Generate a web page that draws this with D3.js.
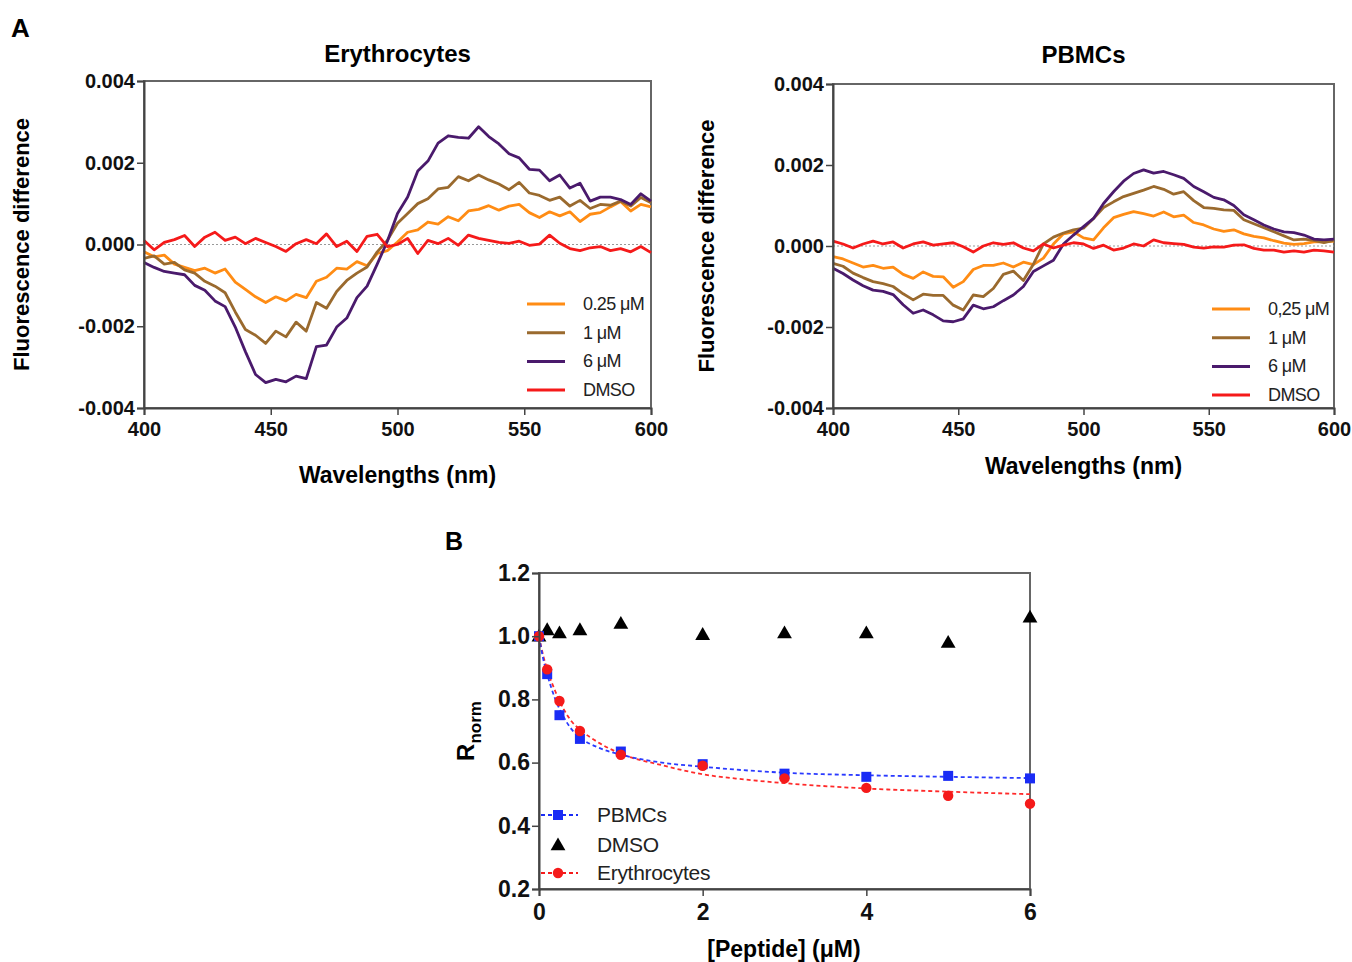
<!DOCTYPE html>
<html>
<head>
<meta charset="utf-8">
<script src="https://cdn.jsdelivr.net/npm/d3@7"></script>
<style>
  body { margin: 0; background: #fff; }
  svg { font-family: "Liberation Sans", Arial, sans-serif; }
</style>
</head>
<body>
<svg id="fig" width="1352" height="962"></svg>
<script>
// wavelengths (nm), 4 nm step
var wavelengths = [400,404,408,412,416,420,424,428,432,436,440,444,448,452,456,460,464,468,472,476,480,484,488,492,496,500,
  504,508,512,516,520,524,528,532,536,540,544,548,552,556,560,564,568,572,576,580,584,588,592,596,600];

// Erythrocytes, fluorescence difference (x 0.001)
var eryLow = [-0.18,-0.30,-0.26,-0.48,-0.56,-0.64,-0.58,-0.70,-0.60,-0.92,-1.10,-1.28,-1.42,-1.28,-1.38,-1.22,-1.30,-0.90,-0.80,-0.58,-0.60,-0.42,-0.52,-0.22,-0.15,0.06,
  0.30,0.36,0.55,0.50,0.68,0.58,0.82,0.86,0.95,0.84,0.94,0.98,0.78,0.66,0.80,0.70,0.80,0.56,0.74,0.78,0.92,1.05,0.82,0.98,0.92];
var eryMid = [-0.34,-0.28,-0.48,-0.44,-0.62,-0.70,-0.90,-1.02,-1.18,-1.65,-2.08,-2.22,-2.42,-2.12,-2.26,-1.90,-2.12,-1.42,-1.56,-1.15,-0.88,-0.70,-0.55,-0.18,0.10,0.52,
  0.76,1.00,1.12,1.36,1.40,1.66,1.56,1.70,1.58,1.48,1.34,1.52,1.26,1.20,1.08,1.16,0.94,1.08,0.88,0.98,0.96,1.06,0.94,1.15,1.02];
var eryHigh = [-0.44,-0.56,-0.66,-0.70,-0.74,-1.00,-1.12,-1.38,-1.52,-2.02,-2.62,-3.18,-3.38,-3.30,-3.36,-3.22,-3.28,-2.50,-2.46,-2.02,-1.80,-1.30,-1.02,-0.48,0.08,0.76,
  1.16,1.80,2.04,2.48,2.66,2.62,2.60,2.88,2.64,2.46,2.22,2.12,1.84,1.82,1.56,1.70,1.38,1.50,1.06,1.16,1.16,1.10,0.98,1.24,1.06];
var eryDmso = [0.10,-0.13,0.05,0.12,0.22,-0.05,0.18,0.30,0.10,0.18,0.02,0.15,0.05,-0.05,-0.17,0.02,0.12,0.02,0.26,-0.05,0.08,-0.17,0.20,0.25,-0.05,0.00,
  0.15,-0.22,0.10,0.02,0.15,-0.02,0.23,0.15,0.10,0.05,0.03,0.08,-0.02,0.01,0.23,0.03,-0.10,-0.15,-0.08,-0.05,-0.15,-0.10,-0.18,-0.05,-0.20];

// PBMCs, fluorescence difference (x 0.001)
var pbmcLow = [-0.26,-0.32,-0.42,-0.52,-0.48,-0.55,-0.52,-0.70,-0.80,-0.64,-0.75,-0.76,-1.02,-0.88,-0.58,-0.48,-0.48,-0.42,-0.52,-0.40,-0.46,-0.30,0.05,0.30,0.35,0.20,
  0.15,0.45,0.70,0.78,0.85,0.80,0.74,0.84,0.72,0.76,0.58,0.52,0.42,0.36,0.40,0.30,0.24,0.20,0.13,0.07,0.04,0.06,0.10,0.10,0.12];
var pbmcMid = [-0.43,-0.50,-0.67,-0.78,-0.88,-0.93,-1.00,-1.18,-1.33,-1.19,-1.22,-1.22,-1.46,-1.58,-1.21,-1.25,-1.05,-0.70,-0.62,-0.85,-0.45,0.05,0.22,0.32,0.40,0.44,
  0.68,0.95,1.09,1.22,1.30,1.38,1.47,1.40,1.28,1.34,1.12,0.95,0.93,0.89,0.88,0.65,0.55,0.45,0.35,0.25,0.15,0.17,0.14,0.08,0.14];
var pbmcHigh = [-0.55,-0.68,-0.84,-0.98,-1.09,-1.12,-1.20,-1.45,-1.66,-1.58,-1.70,-1.85,-1.87,-1.80,-1.46,-1.55,-1.50,-1.35,-1.21,-1.00,-0.63,-0.49,-0.35,0.05,0.27,0.48,
  0.68,1.05,1.34,1.60,1.79,1.88,1.80,1.84,1.76,1.67,1.47,1.34,1.20,1.14,1.00,0.77,0.65,0.52,0.42,0.35,0.33,0.27,0.17,0.15,0.17];
var pbmcDmso = [0.12,0.05,-0.05,0.05,0.12,0.05,0.10,-0.05,0.05,0.10,0.02,0.05,0.08,-0.02,-0.15,0.00,0.08,0.04,0.08,-0.05,-0.12,0.05,-0.05,0.02,0.08,0.05,
  -0.06,0.02,-0.10,-0.05,0.05,0.00,0.15,0.08,0.06,0.04,-0.03,-0.05,-0.02,-0.03,0.02,0.03,-0.06,-0.10,-0.10,-0.15,-0.12,-0.15,-0.10,-0.12,-0.15];

var seriesNames = ["0.25 \u03bcM", "1 \u03bcM", "6 \u03bcM", "DMSO"];
var seriesNamesPbmc = ["0,25 \u03bcM", "1 \u03bcM", "6 \u03bcM", "DMSO"];
var seriesColors = ["#ff8c14", "#9a6a2e", "#4a1a6c", "#f51a1a"];
var yTicksA = [-0.004, -0.002, 0, 0.002, 0.004];
var xTicksA = [400, 450, 500, 550, 600];

// panel B
var peptide = [0, 0.1, 0.25, 0.5, 1, 2, 3, 4, 5, 6];
var rPbmc = [1.0, 0.88, 0.75, 0.675, 0.635, 0.595, 0.565, 0.555, 0.558, 0.55];
var rEry = [1.0, 0.895, 0.795, 0.70, 0.625, 0.59, 0.55, 0.52, 0.495, 0.47];
var rDmso = [1.0, 1.02, 1.01, 1.02, 1.04, 1.005, 1.01, 1.01, 0.98, 1.06];
var fitX = [0, 0.05, 0.1, 0.2, 0.3, 0.4, 0.5, 0.75, 1, 1.5, 2, 2.5, 3, 4, 5, 6];
var fitPbmc = [1.0, 0.93, 0.88, 0.80, 0.745, 0.705, 0.68, 0.645, 0.625, 0.60, 0.587, 0.576, 0.568, 0.56, 0.555, 0.551];
var fitEry = [1.0, 0.94, 0.895, 0.825, 0.77, 0.73, 0.705, 0.66, 0.628, 0.592, 0.563, 0.547, 0.535, 0.518, 0.508, 0.500];
var yTicksB = [0.2, 0.4, 0.6, 0.8, 1.0, 1.2];
var xTicksB = [0, 2, 4, 6];

var svg = d3.select("#fig");

function frame(g, x, y) {
    var r = x.range(), t = y.range();
    g.append("rect")
        .attr("x", r[0]).attr("y", t[1])
        .attr("width", r[1] - r[0]).attr("height", t[0] - t[1])
        .attr("fill", "none").attr("stroke", "#666").attr("stroke-width", 2);
}

function styleAxis(sel, size) {
    sel.attr("font-family", null).attr("font-size", null);
    sel.select(".domain").attr("stroke", "#444").attr("stroke-width", 2);
    sel.selectAll(".tick line").attr("stroke", "#444").attr("stroke-width", 1.5);
    sel.selectAll(".tick text")
        .style("font-weight", "bold").style("font-size", size + "px").attr("fill", "#111")
        .text(function() { return this.textContent.replace("\u2212", "-"); });
}

function drawSpectrum(opt) {
    var x = d3.scaleLinear().domain([400, 600]).range(opt.xr);
    var y = d3.scaleLinear().domain([-0.004, 0.004]).range(opt.yr);
    var g = svg.append("g");

    frame(g, x, y);

    // dotted zero line
    g.append("line")
        .attr("x1", x(400)).attr("x2", x(600))
        .attr("y1", y(0)).attr("y2", y(0))
        .attr("stroke", "#999").attr("stroke-width", 1.2)
        .attr("stroke-dasharray", "2,2");

    var line = d3.line()
        .x(function(d, i) { return x(wavelengths[i]); })
        .y(function(d) { return y(d / 1000); });

    opt.series.forEach(function(s, i) {
        g.append("path")
            .attr("d", line(s))
            .attr("fill", "none")
            .attr("stroke", seriesColors[i])
            .attr("stroke-width", 2.8)
            .attr("stroke-linejoin", "round");
    });

    g.append("g")
        .attr("transform", "translate(0," + opt.yr[0] + ")")
        .call(d3.axisBottom(x).tickValues(xTicksA).tickSize(7).tickPadding(7).tickFormat(d3.format("d")))
        .call(styleAxis, 20);

    g.append("g")
        .attr("transform", "translate(" + opt.xr[0] + ",0)")
        .call(d3.axisLeft(y).tickValues(yTicksA).tickSize(7).tickPadding(2).tickFormat(d3.format(".3f")))
        .call(styleAxis, 20);

    // title + labels
    var cx = (opt.xr[0] + opt.xr[1]) / 2;
    g.append("text").attr("x", cx).attr("y", opt.titleY)
        .attr("text-anchor", "middle").style("font-weight", "bold").style("font-size", "24px")
        .text(opt.title);
    g.append("text").attr("x", cx).attr("y", opt.xlabY)
        .attr("text-anchor", "middle").style("font-weight", "bold").style("font-size", "23px")
        .text("Wavelengths (nm)");
    g.append("text")
        .attr("transform", "translate(" + opt.ylabX + "," + (opt.yr[0] + opt.yr[1]) / 2 + ") rotate(-90)")
        .attr("text-anchor", "middle").style("font-weight", "bold").style("font-size", "22px")
        .text("Fluorescence difference");

    // legend
    var lg = g.append("g").attr("transform", "translate(" + opt.legX + "," + opt.legY + ")");
    opt.names.forEach(function(n, i) {
        lg.append("line").attr("x1", 0).attr("x2", 38)
            .attr("y1", i * 28.7).attr("y2", i * 28.7)
            .attr("stroke", seriesColors[i]).attr("stroke-width", 3);
        lg.append("text").attr("x", 56).attr("y", i * 28.7 + 6)
            .style("font-size", "18px").style("letter-spacing", "-0.6px").attr("fill", "#222")
            .text(n);
    });
}

drawSpectrum({
    xr: [144, 651], yr: [408, 81],
    series: [eryLow, eryMid, eryHigh, eryDmso],
    names: seriesNames,
    title: "Erythrocytes", titleY: 62, xlabY: 483, ylabX: 29,
    legX: 527, legY: 304
});

drawSpectrum({
    xr: [833, 1334], yr: [408, 84],
    series: [pbmcLow, pbmcMid, pbmcHigh, pbmcDmso],
    names: seriesNamesPbmc,
    title: "PBMCs", titleY: 63, xlabY: 474, ylabX: 714,
    legX: 1212, legY: 309
});

// panel letters
svg.append("text").attr("x", 11).attr("y", 37).style("font-weight", "bold").style("font-size", "26px").text("A");
svg.append("text").attr("x", 445).attr("y", 550).style("font-weight", "bold").style("font-size", "25px").text("B");

// ---- panel B ----
var bx = d3.scaleLinear().domain([0, 6]).range([539, 1030]);
var by = d3.scaleLinear().domain([0.2, 1.2]).range([889, 573]);
var gb = svg.append("g");

frame(gb, bx, by);

var fitLine = d3.line()
    .x(function(d, i) { return bx(fitX[i]); })
    .y(function(d) { return by(d); })
    .curve(d3.curveMonotoneX);

gb.append("path").attr("d", fitLine(fitEry)).attr("fill", "none")
    .attr("stroke", "#ff2a2a").attr("stroke-width", 1.8).attr("stroke-dasharray", "4,3");
gb.append("path").attr("d", fitLine(fitPbmc)).attr("fill", "none")
    .attr("stroke", "#2a3aff").attr("stroke-width", 1.8).attr("stroke-dasharray", "4,3");

var tri = d3.symbol().type(d3.symbolTriangle).size(95);

gb.selectAll(".dmso").data(rDmso).enter().append("path")
    .attr("class", "dmso")
    .attr("d", tri)
    .attr("transform", function(d, i) { return "translate(" + bx(peptide[i]) + "," + (by(d) + 1) + ")"; })
    .attr("fill", "#000");

gb.selectAll(".pb").data(rPbmc).enter().append("rect")
    .attr("class", "pb")
    .attr("x", function(d, i) { return bx(peptide[i]) - 5; })
    .attr("y", function(d) { return by(d) - 5; })
    .attr("width", 10).attr("height", 10)
    .attr("fill", "#1a2cf5");

gb.selectAll(".er").data(rEry).enter().append("circle")
    .attr("class", "er")
    .attr("cx", function(d, i) { return bx(peptide[i]); })
    .attr("cy", function(d) { return by(d); })
    .attr("r", 5.2)
    .attr("fill", "#f51a1a");

gb.append("g")
    .attr("transform", "translate(0,889)")
    .call(d3.axisBottom(bx).tickValues(xTicksB).tickSize(7).tickPadding(8).tickFormat(d3.format("d")))
    .call(styleAxis, 23);

gb.append("g")
    .attr("transform", "translate(539,0)")
    .call(d3.axisLeft(by).tickValues(yTicksB).tickSize(7).tickPadding(2).tickFormat(d3.format(".1f")))
    .call(styleAxis, 23);

gb.append("text").attr("x", 784).attr("y", 957)
    .attr("text-anchor", "middle").style("font-weight", "bold").style("font-size", "23px")
    .text("[Peptide] (\u03bcM)");

var rl = gb.append("text")
    .attr("transform", "translate(474,731) rotate(-90)")
    .attr("text-anchor", "middle").style("font-weight", "bold").style("font-size", "24px");
rl.append("tspan").text("R");
rl.append("tspan").attr("dy", 7).style("font-size", "17px").text("norm");

// legend B
var legB = [
    { name: "PBMCs", color: "#1a2cf5", kind: "sq", y: 815 },
    { name: "DMSO", color: "#000", kind: "tri", y: 845 },
    { name: "Erythrocytes", color: "#f51a1a", kind: "ci", y: 873 }
];
legB.forEach(function(d) {
    if (d.kind !== "tri") {
        gb.append("line").attr("x1", 541).attr("x2", 578).attr("y1", d.y).attr("y2", d.y)
            .attr("stroke", d.color).attr("stroke-width", 1.8).attr("stroke-dasharray", "4,3");
    }
    if (d.kind === "sq") {
        gb.append("rect").attr("x", 553).attr("y", d.y - 5).attr("width", 10).attr("height", 10).attr("fill", d.color);
    } else if (d.kind === "ci") {
        gb.append("circle").attr("cx", 558).attr("cy", d.y).attr("r", 5.2).attr("fill", d.color);
    } else {
        gb.append("path").attr("d", tri).attr("transform", "translate(558," + (d.y + 1) + ")").attr("fill", d.color);
    }
    gb.append("text").attr("x", 597).attr("y", d.y + 7)
        .style("font-size", "21px").style("letter-spacing", "-0.3px").attr("fill", "#222")
        .text(d.name);
});
</script>
</body>
</html>
